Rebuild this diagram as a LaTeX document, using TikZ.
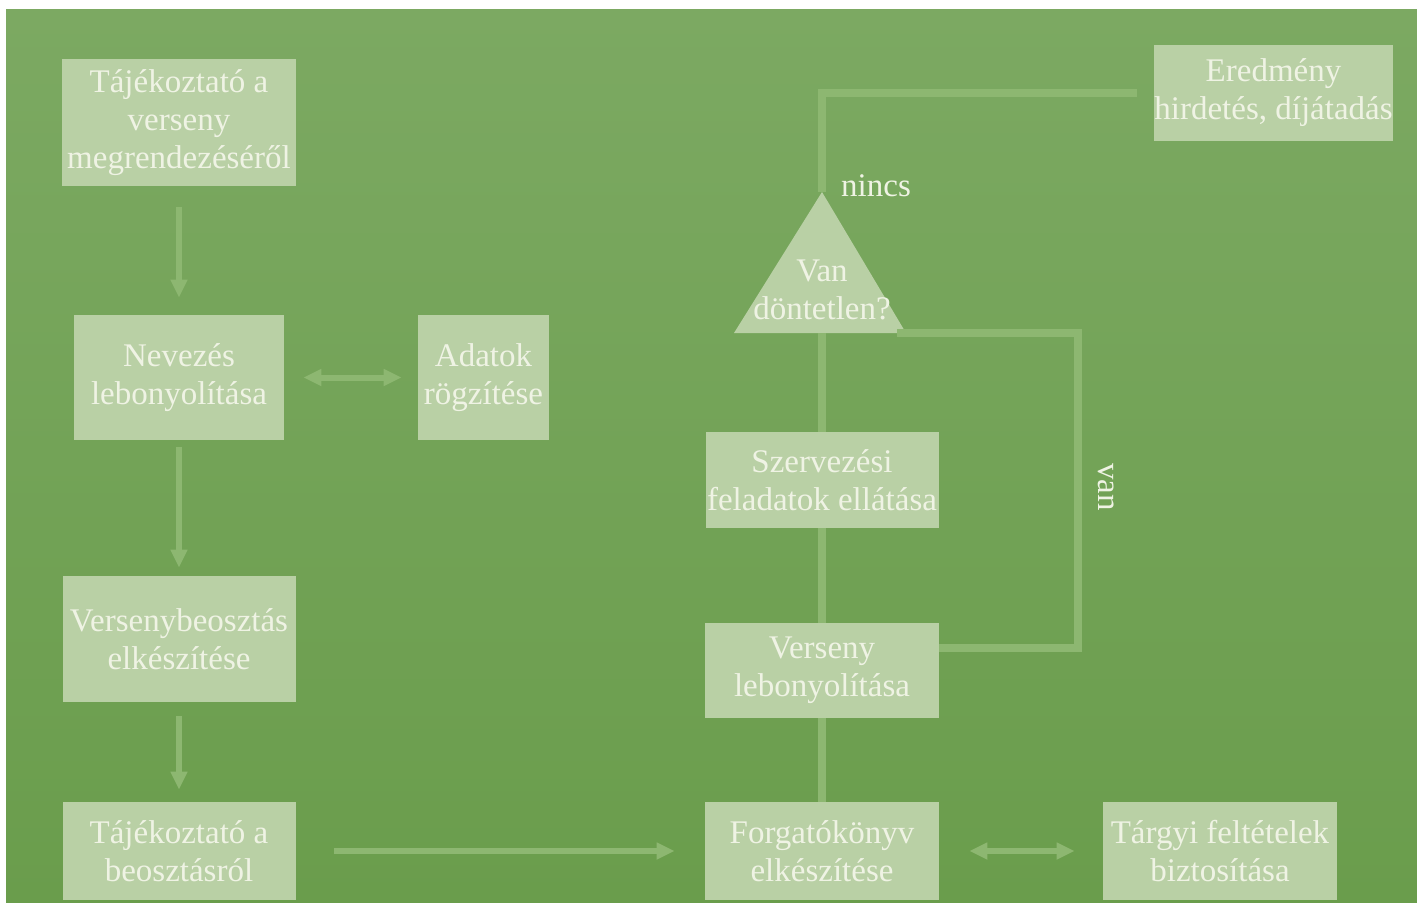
\documentclass[tikz,border=0pt]{standalone}
\usepackage{fontspec}
\setmainfont{Liberation Serif}
\usetikzlibrary{arrows.meta,positioning}
\definecolor{bgtop}{RGB}{124,169,98}
\definecolor{bgbottom}{RGB}{106,157,76}
\definecolor{boxfill}{RGB}{185,208,165}
\definecolor{boxtext}{RGB}{239,243,228}
\definecolor{linkgreen}{RGB}{141,183,113}

\begin{document}
\begin{tikzpicture}[x=0.5pt, y=-0.5pt]
		\tikzstyle{box}=[rectangle, fill=boxfill, text=boxtext, align=center, inner sep=0pt, font=\fontsize{16.5}{19}\selectfont]
		\tikzstyle{note}=[text=boxtext, inner sep=0pt, font=\fontsize{16.5}{19}\selectfont]
		\tikzstyle{flow}=[line width=3pt, draw=linkgreen, -{Triangle[length=9pt, width=8pt]}]
		\tikzstyle{twoway}=[line width=3pt, draw=linkgreen, {Triangle[length=9pt, width=8pt]}-{Triangle[length=9pt, width=8pt]}]
		\tikzstyle{link}=[line width=4pt, draw=linkgreen, line join=miter]
		\useasboundingbox (0,0) rectangle (1417,902);
		\fill[white] (0,0) rectangle (1417,902);
		\shade[top color=bgtop, bottom color=bgbottom] (6,9) rectangle (1417,902);
		% left column
		\node[box, minimum width=117pt, minimum height=63.5pt] (inform)   at (179,122.5) {Tájékoztató a\\verseny\\megrendezéséről};
		\node[box, minimum width=105pt, minimum height=62.5pt] (entry)    at (179,377.5) {Nevezés\\lebonyolítása};
		\node[box, minimum width=65.5pt, minimum height=62.5pt] (data)    at (483.5,377.5) {Adatok\\rögzítése};
		\node[box, minimum width=116.5pt, minimum height=63pt] (schedule) at (179,639) {Versenybeosztás\\elkészítése};
		\node[box, minimum width=116.5pt, minimum height=49pt] (notice)   at (179,851) {Tájékoztató a\\beosztásról};
		% right column
		\node[box, minimum width=117pt, minimum height=49pt] (script)     at (822,851) {Forgatókönyv\\elkészítése};
		\node[box, minimum width=117pt, minimum height=49pt] (equip)      at (1220,851) {Tárgyi feltételek\\biztosítása};
		\node[box, minimum width=117pt, minimum height=47.5pt] (contest)  at (822,670.5) {Verseny\\lebonyolítása};
		\node[box, minimum width=116.5pt, minimum height=48pt] (organize) at (822,480) {Szervezési\\feladatok ellátása};
		\node[box, minimum width=116.5pt, minimum height=48pt] (result)   at (1273.5,93) {Eredmény\\hirdetés, díjátadás};
		
		% decision triangle
		\coordinate (tri-top)   at (822,192);
		\coordinate (tri-base)  at (822,333);
		\coordinate (tri-right) at (897,333);
		\fill[boxfill] (tri-top) -- (906,333) -- (734,333) -- cycle;
		\node[note, align=center] (tie) at (822,290) {Van\\döntetlen?};
		
		\coordinate (van-in)  at (1078,648);
		\coordinate (van-out) at (1078,333);
		\node[note] (nincs) at (876,186) {nincs};
		\node[note, rotate=-90] (van) at (1106,487) {van};
		
		\path
		(inform)   edge [flow, shorten <=10.5pt, shorten >=8.5pt] (entry)
		(entry)    edge [flow, shorten <=3.5pt, shorten >=4pt] (schedule)
		(schedule) edge [flow, shorten <=7pt, shorten >=6pt] (notice)
		(notice)   edge [flow, shorten <=19pt, shorten >=15pt] (script)
		(entry)    edge [twoway, shorten <=9.5pt, shorten >=8pt] (data)
		(script)   edge [twoway, shorten <=15pt, shorten >=14pt] (equip)
		
		(tri-base) edge [link] (organize)
		(organize) edge [link] (contest)
		(contest)  edge [link] (script)
		;
		\draw[link] (tri-top) |- ([xshift=-8.5pt]result.west);
		\draw[link] (contest.east |- van-in) -- (van-in) -- (van-out) -- (tri-right);
		
		\end{tikzpicture}
\end{document}
